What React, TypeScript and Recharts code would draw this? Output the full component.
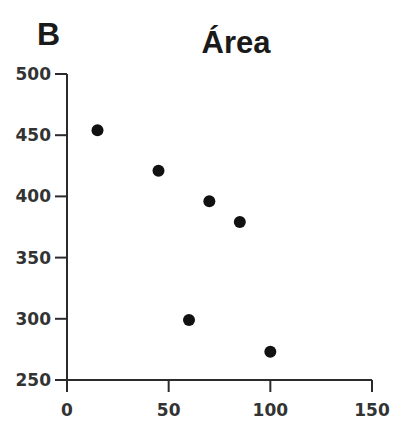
import React from "react";
import { ScatterChart, Scatter, XAxis, YAxis, Customized } from "recharts";

// Measurements: x value and area for each sample
const xValues = [15, 45, 70, 85, 60, 100];
const areaValues = [454, 421, 396, 379, 299, 273];

const xTicks = [0, 50, 100, 150];
const yTicks = [250, 300, 350, 400, 450, 500];

const panelLetter = "B";
const chartTitle = "Área";

const points = xValues.map((x, i) => ({ x, y: areaValues[i] }));

const AXIS_COLOR = "#2b2b2b";
const tickFont = {
  fontFamily: "DejaVu Sans",
  fontWeight: 700,
  fontSize: 17,
  fill: "#333",
};

const Dot = (props: any) => (
  <circle cx={props.cx} cy={props.cy} r={6} fill="#111" />
);

const Headings = () => (
  <g>
    <text
      x={37}
      y={45}
      fontFamily="Liberation Sans"
      fontWeight={700}
      fontSize={32}
      fill="#1a1a1a"
    >
      {panelLetter}
    </text>
    <text
      x={236}
      y={53}
      textAnchor="middle"
      fontFamily="Liberation Sans"
      fontWeight={700}
      fontSize={31}
      fill="#1a1a1a"
    >
      {chartTitle}
    </text>
  </g>
);

export default function App() {
  return (
    <div style={{ position: "absolute", left: 0, top: 0, background: "#fff" }}>
      <ScatterChart
        width={395}
        height={421}
        margin={{ top: 74, right: 23, bottom: 0, left: 0 }}
      >
        <XAxis
          type="number"
          dataKey="x"
          domain={[0, 150]}
          ticks={xTicks}
          height={41}
          tickSize={12}
          tickMargin={12}
          stroke={AXIS_COLOR}
          strokeWidth={2}
          tick={tickFont}
          tickLine={{ stroke: AXIS_COLOR, strokeWidth: 2 }}
          axisLine={{ stroke: AXIS_COLOR, strokeWidth: 2 }}
        />
        <YAxis
          type="number"
          dataKey="y"
          domain={[250, 500]}
          ticks={yTicks}
          width={67}
          tickSize={12}
          tickMargin={4}
          stroke={AXIS_COLOR}
          strokeWidth={2}
          tick={tickFont}
          tickLine={{ stroke: AXIS_COLOR, strokeWidth: 2 }}
          axisLine={{ stroke: AXIS_COLOR, strokeWidth: 2 }}
        />
        <Scatter data={points} shape={Dot} isAnimationActive={false} />
        <Customized component={Headings} />
      </ScatterChart>
    </div>
  );
}
